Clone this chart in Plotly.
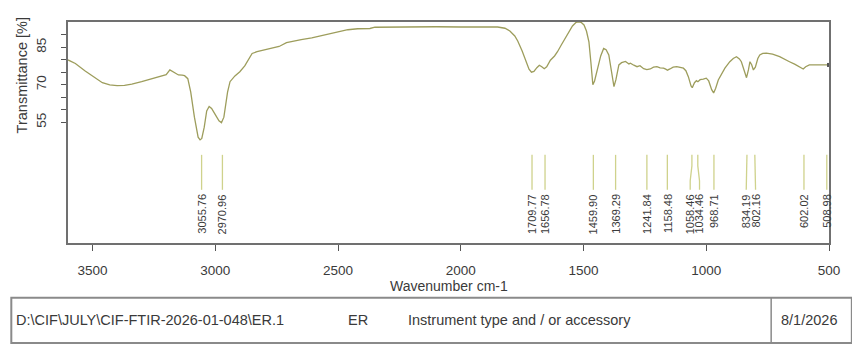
import plotly.graph_objects as go

# ---------------- data ----------------
wavenumber = [3600, 3570, 3530, 3490, 3460, 3430, 3400, 3370, 3340, 3300, 3260, 3220, 3200,
              3185, 3170, 3150, 3135, 3125, 3112, 3100, 3085, 3070, 3062, 3055, 3045, 3035,
              3025, 3015, 3000, 2985, 2975, 2965, 2950, 2940, 2920, 2900, 2880, 2865, 2850,
              2830, 2800, 2760, 2740, 2710, 2680, 2650, 2607, 2550, 2500, 2460, 2420, 2390,
              2370, 2350, 2300, 2200, 2100, 2000, 1900, 1850, 1820, 1800, 1780, 1768, 1750,
              1735, 1722, 1712, 1702, 1690, 1680, 1670, 1660, 1650, 1635, 1618, 1606, 1590,
              1575, 1559, 1545, 1530, 1520, 1510, 1498, 1488, 1478, 1470, 1462, 1455, 1444,
              1430, 1418, 1408, 1397, 1385, 1376, 1368, 1356, 1345, 1329, 1315, 1309, 1295,
              1282, 1270, 1255, 1242, 1228, 1215, 1201, 1188, 1174, 1165, 1158, 1148, 1135,
              1120, 1105, 1093, 1083, 1073, 1062, 1057, 1048, 1040, 1034, 1025, 1012, 1000,
              990, 978, 970, 962, 951, 940, 924, 904, 890, 877, 865, 857, 845, 836, 828, 822,
              815, 808, 800, 790, 782, 770, 755, 730, 701, 680, 661, 640, 620, 605, 595, 580,
              540, 512, 500]
transmittance = [79.9, 78.5, 75.5, 72.8, 70.8, 69.9, 69.6, 69.7, 70.2, 71.2, 72.2, 73.2, 74.0,
                 75.9, 75.0, 73.9, 73.8, 73.6, 72.4, 67.0, 57.0, 49.0, 47.9, 48.5, 53.0, 59.5,
                 61.3, 60.5, 58.0, 55.5, 54.8, 57.0, 67.0, 71.2, 73.5, 75.2, 77.5, 79.8, 82.5,
                 83.2, 83.9, 84.6, 85.3, 86.8, 87.5, 88.0, 88.7, 90.0, 91.2, 92.0, 92.4, 92.6,
                 92.5, 93.0, 93.1, 93.2, 93.2, 93.1, 93.0, 93.1, 92.6, 91.5, 89.5, 87.5, 83.5,
                 79.5, 76.2, 75.0, 75.3, 76.8, 77.8, 77.2, 76.4, 77.2, 79.8, 81.5, 83.2, 86.0,
                 88.5, 91.2, 93.5, 95.0, 95.2, 95.0, 93.9, 91.5, 87.2, 79.0, 70.0, 71.5, 75.5,
                 81.5, 84.5, 84.0, 81.9, 75.0, 69.2, 72.0, 77.9, 78.8, 79.3, 78.3, 78.6, 77.8,
                 77.2, 77.6, 76.4, 76.0, 76.3, 77.0, 77.2, 76.7, 76.6, 76.2, 75.8, 76.3, 77.0,
                 77.2, 76.7, 76.6, 75.6, 73.2, 69.5, 68.8, 70.8, 71.6, 71.2, 72.0, 72.2, 72.6,
                 71.5, 68.0, 66.7, 68.5, 71.9, 74.0, 76.6, 79.2, 80.5, 81.2, 80.3, 79.2, 76.0,
                 72.8, 76.0, 79.2, 78.0, 75.9, 77.0, 80.5, 81.9, 82.5, 82.6, 82.2, 81.2, 80.3,
                 79.2, 78.2, 77.0, 76.3, 77.2, 77.9, 77.9, 77.9, 77.9]

peak_positions = [3055.76, 2970.96, 1709.77, 1656.78, 1459.90, 1369.29, 1241.84, 1158.48,
                  1058.46, 1034.46, 968.71, 834.19, 802.16, 602.02, 508.98]
peak_labels = ["3055.76", "2970.96", "1709.77", "1656.78", "1459.90", "1369.29", "1241.84",
               "1158.48", "1058.46", "1034.46", "968.71", "834.19", "802.16", "602.02", "508.98"]

x_ticks = [3500, 3000, 2500, 2000, 1500, 1000, 500]
y_ticks = [55, 60, 65, 70, 75, 80, 85, 90]
y_tick_text = ["55", "", "", "70", "", "", "85", ""]

info_fields = ["D:\\CIF\\JULY\\CIF-FTIR-2026-01-048\\ER.1", "ER",
               "Instrument type and / or accessory", "8/1/2026"]

# ---------------- layout constants ----------------
X_RANGE = [3600, 500]
Y_RANGE = [6.6, 95.1]
FONT = "Liberation Sans, Arial, sans-serif"
TRACE_COLOR = "#9d9d5c"
PEAK_COLOR = "#cfd28c"
AXIS_COLOR = "#707070"
TEXT_COLOR = "#3a3a3a"

# label spreading so rotated labels do not overlap (gap in wavenumber units)
MIN_GAP = 38.0
order = sorted(range(len(peak_positions)), key=lambda i: -peak_positions[i])
lab_x = [peak_positions[i] for i in order]
for _ in range(500):
    moved = False
    for k in range(len(lab_x) - 1):
        gap = lab_x[k] - lab_x[k + 1]
        if gap < MIN_GAP - 1e-6:
            d = (MIN_GAP - gap) / 2
            lab_x[k] += d
            lab_x[k + 1] -= d
            moved = True
    if not moved:
        break
label_x = [0.0] * len(peak_positions)
for k, i in enumerate(order):
    label_x[i] = lab_x[k]
# keep the last label inside the plot edge
label_x[-1] = max(label_x[-1], X_RANGE[1] + 8)

# peak marker lines (top vertical, slant, bottom vertical)
Y_TOP, Y_BEND1, Y_BEND2, Y_BOT, Y_LABEL = 41.9, 37.5, 31.5, 27.9, 26.6
lx, ly = [], []
for p, q in zip(peak_positions, label_x):
    lx += [p, p, q, q, None]
    ly += [Y_TOP, Y_BEND1, Y_BEND2, Y_BOT, None]

fig = go.Figure()
fig.add_trace(go.Scatter(x=wavenumber, y=transmittance, mode="lines",
                         line=dict(color=TRACE_COLOR, width=1.3), hoverinfo="skip"))
fig.add_trace(go.Scatter(x=[wavenumber[-1]], y=[transmittance[-1]], mode="markers",
                         marker=dict(color="#555555", size=4, symbol="square"),
                         hoverinfo="skip", cliponaxis=False))
fig.add_trace(go.Scatter(x=lx, y=ly, mode="lines", line=dict(color=PEAK_COLOR, width=1.3),
                         hoverinfo="skip", cliponaxis=False))

annotations = []
for q, t in zip(label_x, peak_labels):
    annotations.append(dict(x=q, y=Y_LABEL, xref="x", yref="y", text=t, showarrow=False,
                            textangle=-90, xanchor="center", yanchor="top", borderpad=0,
                            font=dict(family=FONT, size=11, color=TEXT_COLOR)))

# axis titles
annotations.append(dict(x=0.5, y=-0.195, xref="paper", yref="paper", text="Wavenumber cm-1",
                        showarrow=False, xanchor="center", yanchor="middle",
                        font=dict(family=FONT, size=14, color=TEXT_COLOR)))
annotations.append(dict(x=-0.060, y=0.76, xref="paper", yref="paper", text="Transmittance [%]",
                        showarrow=False, textangle=-90, xanchor="center", yanchor="middle",
                        font=dict(family=FONT, size=14.5, color=TEXT_COLOR)))

# info box
info_x = [-0.0706, 0.3647, 0.444, 0.9346]
for xx, t in zip(info_x, info_fields):
    annotations.append(dict(x=xx, y=-0.350, xref="paper", yref="paper", text=t,
                            showarrow=False, xanchor="left", yanchor="middle",
                            font=dict(family=FONT, size=14.5, color=TEXT_COLOR)))

shapes = [
    dict(type="rect", xref="paper", yref="paper", x0=-0.0745, x1=1.03, y0=-0.452, y1=-0.248,
         line=dict(color="#8a8a8a", width=2), fillcolor="rgba(0,0,0,0)", layer="above"),
    dict(type="line", xref="paper", yref="paper", x0=0.924, x1=0.924, y0=-0.452, y1=-0.248,
         line=dict(color="#8a8a8a", width=1.5)),
]

fig.update_layout(
    width=852, height=348,
    margin=dict(l=68, r=19, t=22, b=105),
    paper_bgcolor="white", plot_bgcolor="white",
    showlegend=False,
    annotations=annotations, shapes=shapes,
    xaxis=dict(range=X_RANGE, tickvals=x_ticks, ticktext=[str(v) for v in x_ticks],
               ticks="outside", ticklen=6, tickwidth=1, tickcolor="#555555",
               showline=True, mirror=True, linecolor=AXIS_COLOR, linewidth=1.5,
               showgrid=False, zeroline=False, ticklabelstandoff=8,
               tickfont=dict(family=FONT, size=13.5, color=TEXT_COLOR)),
    yaxis=dict(range=Y_RANGE, tickvals=y_ticks, ticktext=y_tick_text, tickangle=-90,
               ticks="outside", ticklen=5, tickwidth=1, tickcolor="#555555",
               showline=True, mirror=True, linecolor=AXIS_COLOR, linewidth=1.5,
               showgrid=False, zeroline=False, ticklabelstandoff=10,
               tickfont=dict(family=FONT, size=13.5, color=TEXT_COLOR)),
)

fig.write_html("out.html")
